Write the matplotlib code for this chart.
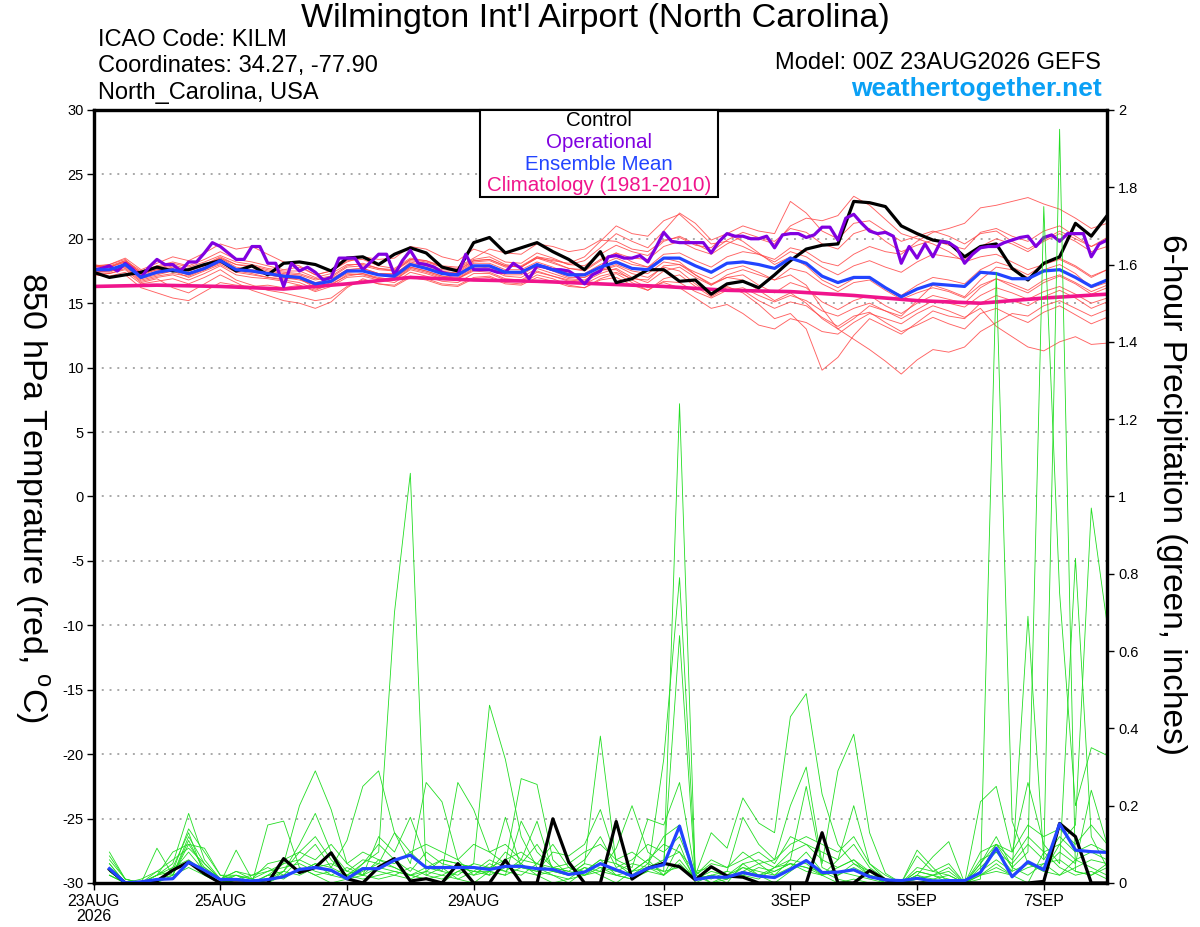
import matplotlib
matplotlib.use("Agg")
import matplotlib.pyplot as plt
import matplotlib.patches as mpatches
import numpy as np

plt.rcParams['font.family'] = ['Liberation Sans', 'DejaVu Sans']
plt.rcParams['mathtext.fontset'] = 'custom'
plt.rcParams['mathtext.rm'] = 'Liberation Sans'
plt.rcParams['axes.unicode_minus'] = False

# forecast hours: 6-hourly ensemble, 3-hourly operational, daily climatology
t6 = np.arange(65) * 6
t3 = np.arange(129) * 3
t_clim = np.arange(17) * 24
t_precip = t6[1:]

tick_hours = [0, 48, 96, 144, 216, 264, 312, 360]
tick_labels = ["23AUG\n2026", "25AUG", "27AUG", "29AUG", "1SEP", "3SEP", "5SEP", "7SEP"]

# 850 hPa temperature (C)
control_temp = [17.4, 17.0, 17.2, 17.4, 17.8, 17.5, 17.6, 18.0, 18.3, 17.5,
                17.9, 17.2, 18.1, 18.2, 18.0, 17.5, 18.5, 18.6, 18.0, 18.8,
                19.3, 18.9, 17.8, 17.5, 19.7, 20.1, 18.9, 19.3, 19.7, 19.0,
                18.4, 17.6, 19.0, 16.6, 16.9, 17.6, 17.6, 16.7, 16.8, 15.7,
                16.5, 16.7, 16.2, 17.2, 18.3, 19.2, 19.5, 19.6, 22.9, 22.8,
                22.5, 21.0, 20.4, 19.9, 19.7, 18.6, 19.4, 19.6, 17.7, 16.8,
                18.1, 18.6, 21.2, 20.2, 21.8]

oper_temp = [17.6, 17.7, 17.9, 17.5, 18.1, 17.6, 17.0, 17.8, 18.4, 18.0,
             18.0, 17.5, 18.2, 18.2, 18.9, 19.7, 19.4, 18.9, 18.4, 18.4,
             19.4, 19.4, 18.1, 18.1, 16.3, 18.1, 17.5, 17.8, 17.4, 16.8,
             17.0, 18.5, 18.5, 18.5, 17.6, 18.2, 18.8, 18.8, 17.2, 18.3,
             19.1, 18.1, 18.0, 17.8, 17.4, 17.2, 17.2, 18.8, 17.6, 17.6,
             17.6, 17.4, 17.4, 18.1, 17.7, 16.9, 17.9, 17.8, 17.6, 17.6,
             17.5, 17.1, 16.5, 17.2, 17.5, 18.6, 18.7, 18.5, 18.5, 18.7,
             18.2, 19.3, 20.5, 19.8, 19.7, 19.7, 19.7, 19.7, 18.9, 19.8,
             20.4, 20.2, 20.2, 20.0, 20.0, 20.2, 19.3, 20.3, 20.4, 20.4,
             20.1, 20.3, 20.9, 20.9, 19.9, 21.6, 21.9, 21.2, 20.6, 20.4,
             20.5, 20.2, 18.1, 19.4, 18.5, 19.6, 18.6, 19.8, 19.7, 19.3,
             18.1, 18.8, 19.3, 19.4, 19.4, 19.7, 19.9, 20.1, 20.2, 19.4,
             20.1, 20.3, 19.8, 20.4, 20.4, 20.4, 18.6, 19.6, 19.9]

mean_temp = [17.6, 17.6, 18.0, 17.0, 17.4, 17.6, 17.3, 17.7, 18.3, 17.6,
             17.5, 17.3, 17.1, 17.0, 16.5, 16.7, 17.5, 17.5, 17.2, 17.1,
             18.0, 17.7, 17.3, 17.2, 17.9, 17.9, 17.4, 17.4, 18.0, 17.6,
             17.2, 17.2, 17.8, 18.2, 17.7, 17.6, 18.5, 18.5, 17.9, 17.4,
             18.1, 18.2, 18.0, 17.7, 18.5, 18.1, 17.1, 16.6, 17.0, 17.0,
             16.2, 15.5, 16.1, 16.5, 16.4, 16.3, 17.4, 17.3, 16.9, 16.9,
             17.5, 17.6, 17.0, 16.3, 16.8]

clim_temp = [16.3, 16.4, 16.3, 16.1, 16.5, 17.0, 16.8, 16.7, 16.5,
             16.3, 16.0, 15.9, 15.6, 15.2, 15.0, 15.4, 15.7]

temp_members = [
    [17.8, 17.9, 18.3, 17.5, 17.9, 18.2, 17.9, 18.4, 19.0,
     18.4, 18.2, 17.9, 17.6, 17.8, 17.2, 17.5, 18.2,
     18.6, 18.4, 18.5, 19.4, 19.2, 18.6, 18.3, 19.2,
     18.8, 18.2, 18.1, 18.9, 18.5, 18.0, 17.9, 18.8,
     19.5, 19.0, 18.7, 19.8, 20.2, 19.6, 19.0, 19.9,
     20.5, 20.1, 19.8, 20.8, 20.5, 19.6, 19.2, 20.4,
     20.8, 19.8, 19.0, 19.5, 19.9, 19.5, 19.2, 20.5,
     20.8, 20.2, 19.8, 20.6, 21.0, 20.2, 19.4, 19.9],
    [17.2, 17.3, 17.6, 16.6, 16.9, 16.2, 15.8, 16.5, 17.2,
     16.6, 16.0, 15.6, 15.2, 15.0, 14.6, 15.1, 16.2,
     16.9, 16.5, 16.4, 17.1, 16.9, 16.5, 16.4, 17.0,
     17.1, 16.6, 16.5, 17.2, 16.9, 16.4, 16.2, 16.9,
     17.3, 16.6, 16.0, 16.9, 17.2, 16.3, 15.5, 16.2,
     16.0, 15.2, 14.6, 15.1, 14.8, 13.9, 13.2, 14.0,
     14.3, 13.5, 12.8, 13.3, 13.9, 13.4, 13.0, 14.2,
     14.6, 14.0, 13.5, 14.3, 14.8, 14.1, 13.4, 13.9],
    [17.5, 17.4, 17.9, 16.9, 17.2, 17.5, 17.0, 17.5, 18.0,
     17.4, 17.2, 17.0, 16.8, 16.6, 16.1, 16.4, 17.2,
     17.3, 17.0, 16.8, 17.7, 17.4, 17.0, 16.9, 17.6,
     17.6, 17.1, 17.0, 17.7, 17.3, 16.9, 16.8, 17.5,
     17.9, 17.3, 17.0, 17.8, 17.5, 16.5, 15.6, 16.3,
     15.8, 14.9, 13.8, 14.2, 13.0, 9.8, 10.8, 12.5,
     13.8, 13.2, 12.6, 13.5, 14.4, 14.0, 13.8, 15.0,
     15.6, 15.2, 14.8, 15.5, 16.0, 15.4, 14.6, 15.1],
    [17.9, 18.0, 18.4, 17.3, 17.7, 18.0, 17.6, 18.0, 18.6,
     18.0, 17.8, 17.5, 17.3, 17.2, 16.8, 17.0, 17.8,
     17.9, 17.6, 17.5, 18.4, 18.2, 17.8, 17.6, 18.3,
     18.4, 17.9, 17.8, 18.5, 18.1, 17.7, 17.6, 18.4,
     18.9, 18.5, 18.4, 19.4, 19.8, 19.2, 18.8, 19.6,
     20.2, 20.0, 19.6, 21.0, 21.6, 21.4, 21.8, 23.3,
     22.6, 21.5, 20.4, 20.0, 19.6, 19.0, 18.2, 18.6,
     18.8, 18.2, 17.6, 18.0, 18.4, 17.8, 17.0, 17.6],
    [17.4, 17.5, 17.8, 16.8, 17.1, 17.3, 17.1, 17.6, 18.2,
     17.5, 17.3, 17.0, 16.9, 16.9, 16.2, 16.6, 17.3,
     17.2, 16.9, 16.9, 17.8, 17.5, 17.1, 16.9, 17.7,
     17.8, 17.2, 17.2, 17.9, 17.5, 17.0, 17.0, 17.6,
     18.0, 17.5, 17.3, 18.2, 18.0, 17.2, 16.5, 17.0,
     16.8, 16.0, 15.2, 15.8, 15.0, 13.8, 13.0, 12.2,
     11.4, 10.5, 9.5, 10.6, 11.4, 11.2, 11.6, 12.8,
     13.5, 14.2, 14.0, 14.8, 15.2, 14.6, 14.0, 14.5],
    [17.7, 17.6, 18.1, 17.1, 17.5, 17.8, 17.5, 17.9, 18.5,
     17.8, 17.6, 17.4, 17.2, 17.1, 16.6, 16.9, 17.6,
     17.7, 17.3, 17.2, 18.2, 17.9, 17.5, 17.3, 18.1,
     18.1, 17.6, 17.6, 18.2, 17.8, 17.3, 17.3, 18.0,
     18.5, 18.0, 17.8, 18.8, 18.9, 18.3, 17.8, 18.6,
     19.0, 18.8, 18.4, 19.3, 19.0, 18.2, 17.9, 18.8,
     19.4, 19.0, 18.8, 19.8, 20.5, 20.8, 21.2, 22.4,
     22.6, 22.9, 23.2, 22.7, 22.3, 21.6, 20.8, 21.2],
    [17.3, 17.0, 17.2, 16.2, 15.8, 15.4, 15.2, 15.9, 16.6,
     16.4, 16.3, 16.4, 16.2, 16.4, 16.0, 16.5, 17.1,
     17.3, 16.9, 16.8, 17.6, 17.3, 16.9, 16.9, 17.5,
     17.4, 16.9, 16.8, 17.5, 17.1, 16.8, 16.7, 17.3,
     17.7, 17.0, 16.6, 17.5, 17.8, 17.0, 16.4, 17.2,
     17.6, 17.2, 16.8, 17.7, 17.4, 16.5, 15.9, 16.6,
     16.8, 16.0, 15.3, 15.8, 16.2, 15.9, 15.4, 16.4,
     16.9, 16.3, 15.8, 16.6, 17.1, 16.5, 15.7, 16.2],
    [17.8, 18.0, 18.5, 17.6, 18.1, 18.6, 18.3, 18.9, 19.6,
     19.2, 19.4, 18.8, 18.2, 17.9, 17.2, 17.5, 18.3,
     18.4, 17.9, 17.7, 18.5, 18.3, 17.8, 17.7, 18.4,
     18.6, 18.0, 17.8, 18.6, 18.2, 17.7, 17.5, 18.3,
     18.9, 18.2, 17.8, 18.5, 18.2, 17.2, 16.4, 17.0,
     17.2, 16.4, 15.8, 16.6, 16.2, 15.1, 14.5, 15.2,
     15.6, 14.8, 14.2, 15.0, 15.6, 15.3, 15.0, 16.2,
     16.9, 16.5, 16.0, 16.8, 17.2, 16.6, 15.9, 16.4],
    [17.6, 17.8, 18.2, 17.2, 17.6, 17.7, 17.2, 17.8, 18.4,
     17.7, 17.5, 17.2, 17.0, 16.8, 16.4, 16.8, 17.6,
     17.7, 17.3, 17.3, 18.1, 17.8, 17.4, 17.4, 18.2,
     18.3, 17.8, 17.9, 18.6, 18.4, 18.0, 18.3, 19.3,
     20.4, 19.8, 19.3, 20.6, 22.0, 21.2, 19.9, 20.4,
     19.8, 18.9, 18.0, 18.6, 17.9, 16.8, 16.2, 16.9,
     17.0, 16.2, 15.6, 16.4, 17.0, 16.8, 16.5, 17.6,
     18.2, 17.8, 17.2, 18.0, 18.5, 17.9, 17.1, 17.6],
    [17.5, 17.5, 17.9, 17.0, 17.3, 17.5, 17.2, 17.6, 18.1,
     17.6, 17.4, 17.2, 17.0, 16.9, 16.4, 16.7, 17.4,
     17.5, 17.2, 17.0, 17.8, 17.5, 17.1, 17.0, 17.8,
     17.9, 17.4, 17.3, 18.0, 17.6, 17.2, 17.0, 17.6,
     17.6, 16.8, 16.2, 16.6, 16.2, 15.4, 14.6, 14.9,
     14.2, 13.3, 13.0, 13.8, 13.5, 12.8, 12.6, 13.5,
     14.2, 13.8, 13.4, 14.2, 14.8, 14.4, 13.9, 14.6,
     13.2, 12.4, 11.6, 11.3, 12.0, 12.4, 11.8, 11.9],
    [18.0, 17.8, 18.2, 17.4, 17.8, 18.1, 17.8, 18.2, 18.7,
     18.2, 18.0, 17.7, 17.5, 17.5, 17.0, 17.3, 18.0,
     18.0, 17.7, 17.6, 18.4, 18.3, 17.9, 17.8, 18.5,
     19.2, 18.9, 18.8, 19.6, 19.4, 19.0, 19.2, 19.9,
     19.8, 19.2, 19.0, 19.9, 20.1, 19.5, 19.3, 20.4,
     21.0, 20.6, 20.4, 22.9, 22.0, 20.6, 20.0, 21.2,
     21.4, 20.6, 19.8, 20.2, 20.6, 20.2, 19.6, 20.4,
     20.6, 19.8, 19.2, 19.9, 20.6, 20.0, 19.4, 20.1],
    [17.4, 17.3, 17.7, 16.7, 17.0, 17.2, 16.8, 17.3, 17.9,
     17.2, 17.0, 16.9, 16.7, 16.4, 15.9, 16.3, 17.0,
     17.1, 16.8, 16.6, 17.4, 17.1, 16.7, 16.6, 17.3,
     17.3, 16.8, 16.7, 17.4, 17.1, 16.7, 16.5, 17.1,
     17.4, 16.9, 16.8, 17.9, 18.0, 17.4, 16.9, 17.6,
     17.9, 17.4, 16.8, 17.2, 16.4, 14.6, 13.0, 13.8,
     14.8, 14.4, 14.0, 15.2, 16.4, 16.0, 15.5, 16.8,
     17.8, 17.6, 17.0, 17.6, 18.0, 17.3, 16.2, 16.6],
    [17.2, 17.1, 17.4, 16.5, 16.7, 16.9, 16.5, 17.0, 17.6,
     16.8, 16.4, 16.0, 15.8, 15.5, 15.2, 15.4, 16.3,
     16.8, 16.5, 16.3, 17.0, 16.8, 16.4, 16.3, 16.9,
     17.0, 16.5, 16.4, 17.0, 16.7, 16.3, 16.2, 16.8,
     17.0, 16.4, 16.0, 16.7, 16.6, 15.9, 15.4, 16.0,
     16.2, 15.6, 15.1, 15.6, 15.2, 14.4, 14.0, 14.6,
     15.0, 14.4, 13.8, 14.5, 15.2, 15.0, 14.7, 15.6,
     16.2, 15.8, 15.3, 15.9, 16.3, 15.7, 15.0, 15.4],
    [17.9, 17.8, 18.3, 17.3, 17.6, 17.9, 17.5, 18.0, 18.5,
     18.0, 17.9, 17.6, 17.4, 17.3, 16.9, 17.1, 17.9,
     18.1, 17.7, 17.5, 18.3, 18.1, 17.6, 17.5, 18.3,
     18.4, 17.9, 17.8, 18.5, 18.3, 18.1, 18.6, 19.8,
     21.0, 20.4, 20.2, 21.4, 21.9, 20.8, 19.6, 19.8,
     19.4, 18.8, 18.2, 19.0, 18.6, 17.8, 17.2, 17.9,
     18.3, 17.8, 17.4, 18.2, 18.8, 18.6, 18.4, 19.4,
     20.0, 19.6, 19.0, 19.8, 20.4, 19.8, 19.0, 19.4],
]

# 6-hour precipitation (inches), from hour 6 on
control_precip = [.035, 0, 0, .005, .033, .054, .024, 0,
                  0, 0, 0, .063, .027, .04, .078, .011,
                  0, .041, .063, .005, .011, 0, .05, 0,
                  0, .059, 0, 0, .166, .054, 0, 0,
                  .159, .01, .038, .051, .042, .008, .042, .018,
                  .015, 0, 0, 0, 0, .13, 0, 0,
                  .032, .008, 0, 0, 0, 0, 0, 0,
                  0, 0, 0, .004, .154, .12, 0, 0]

mean_precip = [.037, 0, .003, .009, .011, .054, .033, .009,
               .009, .005, .009, .016, .035, .04, .033, .011,
               .037, .037, .059, .072, .04, .04, .04, .04,
               .035, .043, .043, .037, .035, .022, .028, .05,
               .034, .018, .038, .047, .147, .009, .015, .015,
               .027, .018, .014, .035, .058, .027, .028, .034,
               .016, .008, .006, .012, .005, .006, .006, .027,
               .09, .016, .055, .034, .153, .085, .081, .079]

precip_members = [
    [.03, 0, 0, .02, .05, .18, .06, .01, 0, 0, .15, .16, .04, .02, 0, .01,
     .05, .08, .70, 1.06, .02, .04, .01, 0, .03, .08, .05, .02, 0, .01, .04, .02,
     0, .03, .06, .02, .10, 0, .02, 0, .05, .02, 0, .03, .06, .02, 0, .01,
     0, 0, 0, .02, 0, 0, 0, .02, .05, .02, 0, .08, .04, .02, .03, .01],
    [.05, 0, 0, .01, .03, .14, .08, .02, .01, 0, .02, .05, .20, .29, .19, .05,
     .02, .06, .04, .02, .01, 0, .03, .05, .46, .32, .12, .04, .02, 0, .03, .06,
     .02, .01, .04, .03, 1.24, .02, 0, .01, .03, .05, .02, .04, .08, .03, .01, 0,
     0, 0, 0, 0, .01, 0, 0, .03, .10, .04, .02, .05, .06, .03, .02, .04],
    [.02, 0, 0, .09, .02, .11, .03, 0, .085, .01, 0, .02, .06, .10, .04, .11,
     .25, .29, .13, .05, .26, .21, .06, .02, .05, .03, .02, .05, .10, .04, .02, .03,
     .09, .20, .08, .05, .64, .01, .03, .02, .02, .01, .04, .06, .25, .04, .02, .05,
     .03, 0, 0, .01, .02, 0, 0, .01, 1.58, .16, .05, .03, .02, .06, .04, .02],
    [.08, .01, 0, .02, .08, .10, .09, .02, .02, 0, .01, .03, .10, .18, .08, .03,
     .02, .12, .08, .17, .06, .03, .26, .19, .08, .05, .27, .255, .06, .02, .05, .38,
     .05, .02, .03, .32, .79, .03, 0, .02, .04, .02, .03, .05, .03, .02, .04, .06,
     .02, .01, 0, 0, 0, 0, 0, .04, .08, .03, .69, .06, 1.95, .03, .02, .05],
    [.04, 0, .01, .03, .02, .12, .05, .01, .03, .02, .04, .02, .03, .05, .02, .01,
     .03, .05, .04, .02, .03, .06, .05, .04, .02, .17, .04, .03, .08, .07, .10, .19,
     .06, .04, .165, .15, .26, .02, .13, .09, .22, .155, .13, .43, .49, .23, .10, .05,
     .02, 0, 0, .085, .04, 0, 0, .21, .25, .08, .26, .10, .05, .84, .12, .04],
    [.02, 0, 0, 0, .04, .06, .03, 0, .01, 0, .02, .03, .02, .04, .03, .02,
     .04, .03, .02, .01, .03, .02, .04, .03, .03, .02, .16, .08, .04, .03, .02, .05,
     .03, .05, .04, .06, .08, .01, .02, .03, .17, .10, .06, .20, .30, .05, .29, .385,
     .13, .025, 0, .02, .068, .107, 0, .05, .12, .04, .08, 1.75, .75, .20, .35, .33],
    [.03, 0, 0, .01, .01, .05, .04, .01, 0, 0, .01, .02, .03, .05, .04, .02,
     .01, .02, .03, .02, .01, .02, .01, .03, .02, .04, .03, .02, .03, .02, .04, .03,
     .02, .03, .04, .02, .06, .01, .02, .01, .03, .02, .04, .05, .04, .02, .06, .20,
     .05, .01, 0, .07, .03, .02, 0, .02, .04, .02, .05, .03, .10, .15, .97, .67],
    [.06, .01, 0, .02, .04, .13, .02, 0, .02, .01, .03, .04, .05, .03, .02, .04,
     .02, .04, .03, .02, .04, .03, .02, .05, .04, .03, .06, .16, .03, .02, .05, .04,
     .03, .02, .05, .03, .04, .02, .01, .03, .02, .04, .03, .05, .04, .03, .02, .04,
     .02, 0, 0, .03, .02, .04, 0, .03, .06, .03, .05, .04, .08, .05, .24, .10],
    [.04, 0, 0, 0, .02, .10, .04, .01, .01, 0, .02, .01, .04, .02, .03, .01,
     .02, .01, .02, .04, .02, .01, .03, .02, .03, .02, .04, .03, .02, .01, .02, .04,
     .02, .01, .03, .02, .05, .01, .02, .01, .04, .03, .02, .06, .05, .02, .03, .02,
     .01, 0, 0, .01, .02, .01, 0, .02, .03, .02, .04, .05, .02, .04, .06, .05],
    [.07, .01, 0, .03, .06, .09, .05, .01, .02, .01, 0, .03, .08, .12, .06, .02,
     .05, .10, .06, .03, .08, .05, .04, .03, .06, .04, .05, .10, .04, .03, .06, .12,
     .04, .06, .10, .08, .12, .02, .05, .04, .06, .08, .05, .12, .10, .08, .06, .10,
     .04, .01, 0, .04, .03, .05, 0, .08, .10, .06, .12, .08, .10, .06, .08, .06],
    [.02, 0, 0, .01, .02, .04, .02, 0, .01, .02, .03, .05, .06, .04, .05, .03,
     .06, .05, .13, .08, .04, .06, .05, .04, .04, .06, .08, .05, .03, .04, .03, .06,
     .05, .03, .06, .10, .08, .03, .04, .02, .05, .06, .04, .08, .10, .06, .04, .06,
     .03, .01, 0, .02, .01, .02, 0, .06, .08, .05, .10, .06, .12, .08, .10, .08],
    [.05, 0, 0, .02, .03, .08, .03, .01, .03, .01, .05, .06, .08, .06, .10, .05,
     .08, .06, .05, .08, .10, .08, .06, .10, .08, .10, .06, .05, .04, .05, .08, .10,
     .06, .08, .05, .12, .15, .02, .06, .04, .08, .05, .06, .10, .12, .10, .08, .12,
     .05, .02, 0, .03, .02, .03, 0, .05, .10, .08, .15, .12, .14, .10, .15, .10],
]

fig = plt.figure(figsize=(12, 9.27), dpi=100)
ax = fig.add_axes([0.078, 0.0475, 0.8446, 0.8339])

for v in range(-25, 30, 5):
    ax.axhline(v, color='#a8a8a8', lw=1.4, linestyle=(0, (1, 3)), zorder=0)

for m in temp_members:
    ax.plot(t6[:len(m)], m, color='#ff4646', lw=0.65, alpha=0.85)
ax.plot(t_clim, clim_temp, color='#f0148c', lw=2.6)
ax.plot(t6, control_temp, color='black', lw=2.3)
ax.plot(t3, oper_temp, color='#8000e0', lw=2.3)
ax.plot(t6, mean_temp, color='#2244ff', lw=2.3)

ax.set_xlim(0, 384)
ax.set_ylim(-30, 30)
ax.set_yticks(range(-30, 31, 5))
ax.set_yticklabels([str(v) for v in range(-30, 31, 5)])
ax.set_xticks(tick_hours)
ax.set_xticklabels(tick_labels)
ax.tick_params(direction='out', length=5, width=1, labelsize=10.5, pad=2)
ax.tick_params(axis='x', labelsize=11.5, pad=3)
for lbl in ax.get_xticklabels():
    lbl.set_linespacing(1.0)

ax2 = ax.twinx()
for m in precip_members:
    ax2.plot(t_precip[:len(m)], m, color='#22dd22', lw=0.6)
ax2.plot(t_precip, control_precip, color='black', lw=2.3)
ax2.plot(t_precip, mean_precip, color='#2244ff', lw=2.3)
ax2.set_ylim(0, 2)
rt = np.arange(0, 2.01, 0.2)
ax2.set_yticks(rt)
ax2.set_yticklabels(['%g' % round(v, 1) for v in rt])
ax2.tick_params(direction='out', length=5, width=1, labelsize=10.5, pad=3)

for a in (ax, ax2):
    for s in a.spines.values():
        s.set_linewidth(2.3)
        s.set_color('black')

# header text
fig.text(0.496, 1 - 18 / 927, "Wilmington Int'l Airport (North Carolina)",
         ha='center', va='center', fontsize=24.5)
fig.text(98 / 1200, 1 - 40 / 927, "ICAO Code: KILM", va='center', fontsize=17)
fig.text(98 / 1200, 1 - 66 / 927, "Coordinates: 34.27, -77.90", va='center', fontsize=17)
fig.text(98 / 1200, 1 - 93 / 927, "North_Carolina, USA", va='center', fontsize=17)
fig.text(1101 / 1200, 1 - 63 / 927, "Model: 00Z 23AUG2026 GEFS", ha='right', va='center', fontsize=17)
fig.text(1102 / 1200, 1 - 89 / 927, "weathertogether.net", ha='right', va='center',
         fontsize=19, fontweight='bold', color='#0aa0f5')

# axis titles
fig.text(32 / 1200, 1 - 497 / 927, "850 hPa Temprature (red, $^\\mathrm{o}$C)",
         rotation=270, ha='center', va='center', fontsize=24.5)
fig.text(1172 / 1200, 1 - 495 / 927, "6-hour Precipitation (green, inches)",
         rotation=270, ha='center', va='center', fontsize=24)

# legend box
box = mpatches.Rectangle((480 / 1200, 1 - 197 / 927), 238 / 1200, 87 / 927,
                         transform=fig.transFigure, facecolor='white',
                         edgecolor='black', lw=1.5, zorder=5)
fig.patches.append(box)
legend_rows = [("Control", 'black'), ("Operational", '#8000e0'),
               ("Ensemble Mean", '#2244ff'), ("Climatology (1981-2010)", '#f0148c')]
for k, (txt, col) in enumerate(legend_rows):
    fig.text(599 / 1200, 1 - (121 + 21.5 * k) / 927, txt, ha='center', va='center',
             fontsize=14.8, color=col, zorder=6)

fig.savefig('out.png', dpi=100)
